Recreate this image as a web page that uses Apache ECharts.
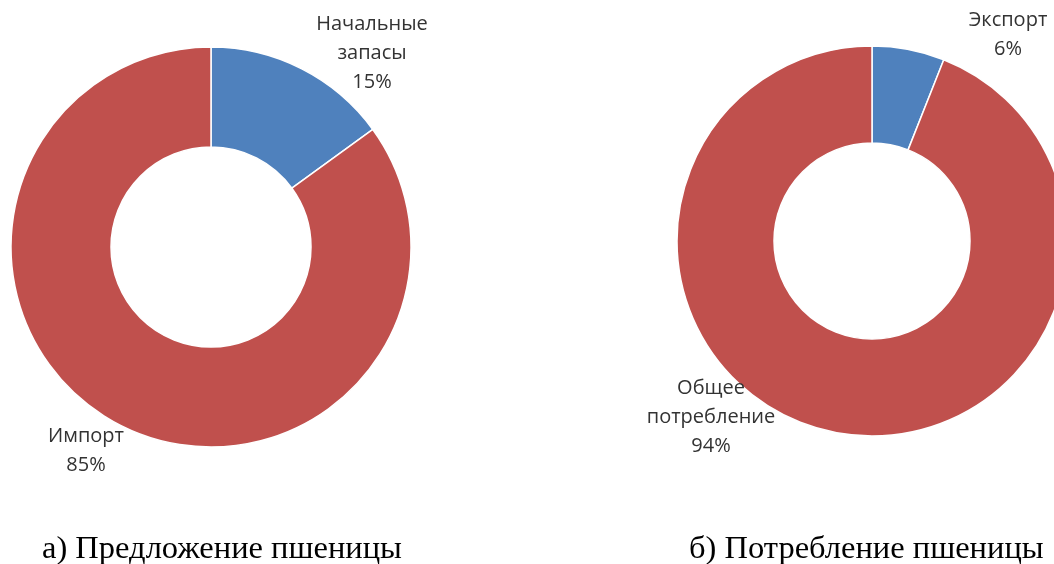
<!DOCTYPE html>
<html>
<head>
<meta charset="utf-8">
<script src="https://cdn.jsdelivr.net/npm/echarts@6/dist/echarts.min.js"></script>
<style>
    html, body { margin: 0; padding: 0; background: #fff; }
    #chart { width: 1054px; height: 564px; }
</style>
</head>
<body>
<div id="chart"></div>
<script>
    // а) Предложение пшеницы
    var supplyNames = ['Начальные\nзапасы', 'Импорт'];
    var supplyValues = [15, 85];
    // б) Потребление пшеницы
    var useNames = ['Экспорт', 'Общее\nпотребление'];
    var useValues = [6, 94];
    var captions = ['а) Предложение пшеницы', 'б) Потребление пшеницы'];

    var colors = ['#4F81BD', '#C0504D'];

    // label anchor spots (centre of each text block)
    var supplyLabelPos = [[372, 53], [86, 451]];
    var useLabelPos = [[1008, 35], [711, 417]];

    function toData(names, values) {
        var out = [];
        for (var i = 0; i < names.length; i++) {
            out.push({name: names[i], value: values[i]});
        }
        return out;
    }

    function pieSeries(names, values, center, radius, labelPos) {
        return {
            type: 'pie',
            center: center,
            radius: radius,
            startAngle: 90,
            clockwise: true,
            silent: true,
            color: colors,
            itemStyle: {borderColor: '#fff', borderWidth: 1.5},
            label: {
                show: true,
                position: 'outside',
                formatter: function (p) { return p.name + '\n' + p.value + '%'; },
                fontFamily: '"Open Sans", "Noto Sans", sans-serif',
                fontSize: 20,
                lineHeight: 29,
                color: '#333',
                align: 'center',
                overflow: 'none'
            },
            labelLine: {show: false},
            labelLayout: function (p) {
                var pos = labelPos[p.dataIndex];
                return {x: pos[0], y: pos[1], align: 'center', verticalAlign: 'middle'};
            },
            data: toData(names, values)
        };
    }

    var captionStyle = {fontFamily: '"Liberation Serif", serif', fontSize: 32.5, fontWeight: 'normal', color: '#000'};

    var chart = echarts.init(document.getElementById('chart'));
    chart.setOption({
        animation: false,
        title: [
            {text: captions[0], left: 37, top: 528, textStyle: captionStyle},
            {text: captions[1], left: 684, top: 528, textStyle: captionStyle}
        ],
        series: [
            pieSeries(supplyNames, supplyValues, [211, 247], [100, 200], supplyLabelPos),
            pieSeries(useNames, useValues, [872, 241], [98, 195], useLabelPos)
        ]
    });
</script>
</body>
</html>
